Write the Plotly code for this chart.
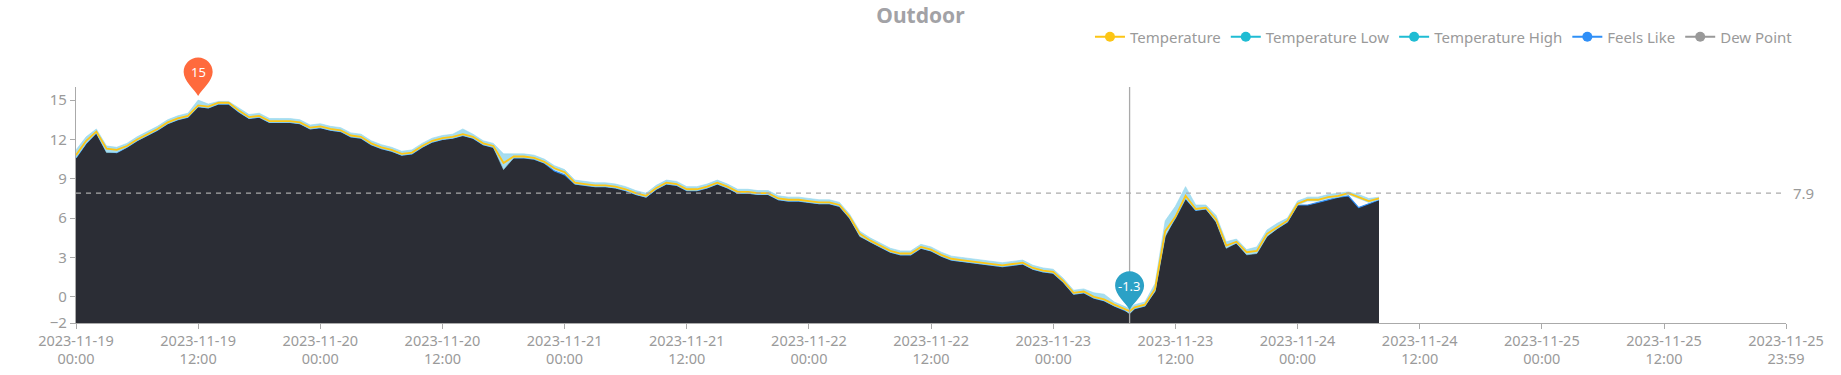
import numpy as np
import pandas as pd
import plotly.graph_objects as go

# ---------------- data ----------------
times = pd.date_range("2023-11-19 00:00", "2023-11-24 08:00", freq="h").tolist()
times.insert(104, pd.Timestamp("2023-11-23 07:30"))

temperature = [
    10.8, 11.9, 12.6, 11.3, 11.2, 11.5, 12.0, 12.4, 12.8, 13.3,
    13.6, 13.8, 14.6, 14.5, 14.8, 14.8, 14.2, 13.7, 13.8, 13.4,
    13.4, 13.4, 13.3, 12.9, 13.0, 12.8, 12.7, 12.3, 12.2, 11.7,
    11.4, 11.2, 10.9, 11.0, 11.5, 11.9, 12.1, 12.2, 12.4, 12.2,
    11.7, 11.5, 10.2, 10.7, 10.7, 10.6, 10.3, 9.8, 9.5, 8.7,
    8.6, 8.5, 8.5, 8.4, 8.2, 7.9, 7.7, 8.3, 8.7, 8.6,
    8.2, 8.2, 8.4, 8.7, 8.4, 8.0, 8.0, 7.9, 7.9, 7.5,
    7.4, 7.4, 7.3, 7.2, 7.2, 7.0, 6.1, 4.8, 4.3, 3.9,
    3.5, 3.3, 3.3, 3.8, 3.6, 3.2, 2.9, 2.8, 2.7, 2.6,
    2.5, 2.4, 2.5, 2.6, 2.2, 2.0, 1.9, 1.2, 0.3, 0.4,
    0.0, -0.2, -0.6, -0.9, -1.1, -0.8, -0.6, 0.6, 5.0, 6.1,
    7.7, 6.7, 6.8, 5.9, 3.9, 4.2, 3.4, 3.5, 4.8, 5.3,
    5.8, 7.1, 7.4, 7.4, 7.6, 7.7, 7.9, 7.6, 7.3, 7.5,
]

temperature_high = [
    11.2, 12.2, 12.8, 11.5, 11.4, 11.7, 12.2, 12.6, 13.0, 13.5,
    13.8, 14.0, 15.0, 14.7, 14.9, 14.9, 14.4, 13.9, 14.0, 13.6,
    13.6, 13.6, 13.5, 13.1, 13.2, 13.0, 12.9, 12.5, 12.4, 11.9,
    11.6, 11.4, 11.1, 11.2, 11.7, 12.1, 12.3, 12.4, 12.8, 12.4,
    11.9, 11.7, 10.9, 10.9, 10.9, 10.8, 10.5, 10.0, 9.7, 8.9,
    8.8, 8.7, 8.7, 8.6, 8.4, 8.1, 7.9, 8.5, 8.9, 8.8,
    8.4, 8.4, 8.6, 8.9, 8.6, 8.2, 8.2, 8.1, 8.1, 7.7,
    7.6, 7.6, 7.5, 7.4, 7.4, 7.2, 6.3, 5.0, 4.5, 4.1,
    3.7, 3.5, 3.5, 4.0, 3.8, 3.4, 3.1, 3.0, 2.9, 2.8,
    2.7, 2.6, 2.7, 2.8, 2.4, 2.2, 2.1, 1.4, 0.5, 0.6,
    0.3, 0.2, -0.4, -0.7, -0.9, -0.6, -0.4, 1.0, 5.8, 6.9,
    8.4, 7.0, 7.0, 6.2, 4.2, 4.4, 3.6, 3.8, 5.1, 5.6,
    6.0, 7.3, 7.6, 7.6, 7.8, 7.9, 8.0, 7.8, 7.5, 7.6,
]

temperature_low = [
    10.6, 11.7, 12.5, 11.0, 11.0, 11.4, 11.9, 12.3, 12.7, 13.2,
    13.5, 13.7, 14.5, 14.4, 14.7, 14.7, 14.1, 13.6, 13.7, 13.3,
    13.3, 13.3, 13.2, 12.8, 12.9, 12.7, 12.6, 12.2, 12.1, 11.6,
    11.3, 11.1, 10.8, 10.9, 11.4, 11.8, 12.0, 12.1, 12.3, 12.1,
    11.6, 11.4, 9.7, 10.6, 10.6, 10.5, 10.2, 9.7, 9.4, 8.6,
    8.5, 8.4, 8.4, 8.3, 8.1, 7.8, 7.6, 8.2, 8.6, 8.5,
    8.1, 8.1, 8.3, 8.6, 8.3, 7.9, 7.9, 7.8, 7.8, 7.4,
    7.3, 7.3, 7.2, 7.1, 7.1, 6.9, 6.0, 4.6, 4.2, 3.8,
    3.4, 3.2, 3.2, 3.7, 3.5, 3.1, 2.8, 2.7, 2.6, 2.5,
    2.4, 2.3, 2.4, 2.5, 2.1, 1.9, 1.8, 1.1, 0.2, 0.3,
    -0.1, -0.3, -0.7, -1.0, -1.3, -0.9, -0.7, 0.4, 4.6, 6.0,
    7.5, 6.6, 6.7, 5.7, 3.7, 4.1, 3.2, 3.3, 4.6, 5.2,
    5.7, 7.0, 7.3, 7.3, 7.5, 7.6, 7.8, 7.5, 7.2, 7.4,
]

feels_like = [
    10.6, 11.7, 12.5, 11.1, 11.0, 11.4, 11.9, 12.3, 12.7, 13.2,
    13.5, 13.7, 14.5, 14.4, 14.7, 14.7, 14.1, 13.6, 13.7, 13.3,
    13.3, 13.3, 13.2, 12.8, 12.9, 12.7, 12.6, 12.2, 12.1, 11.6,
    11.3, 11.1, 10.8, 10.9, 11.4, 11.8, 12.0, 12.1, 12.3, 12.1,
    11.6, 11.4, 10.0, 10.6, 10.6, 10.5, 10.2, 9.6, 9.3, 8.6,
    8.5, 8.4, 8.4, 8.3, 8.1, 7.8, 7.6, 8.2, 8.6, 8.5,
    8.1, 8.1, 8.3, 8.6, 8.3, 7.9, 7.9, 7.8, 7.8, 7.4,
    7.3, 7.3, 7.2, 7.1, 7.1, 6.9, 6.0, 4.7, 4.2, 3.8,
    3.4, 3.2, 3.2, 3.7, 3.5, 3.1, 2.8, 2.7, 2.6, 2.5,
    2.4, 2.3, 2.4, 2.5, 2.1, 1.9, 1.8, 1.1, 0.2, 0.3,
    -0.1, -0.3, -0.7, -1.0, -1.2, -0.9, -0.7, 0.5, 4.8, 6.0,
    7.5, 6.6, 6.7, 5.8, 3.8, 4.1, 3.3, 3.4, 4.7, 5.2,
    5.7, 7.0, 7.0, 7.2, 7.4, 7.6, 7.7, 6.8, 7.1, 7.4,
]

dew_point = []  # series shown in legend only

average_value = 7.9
y_min, y_max = -2, 16
y_ticks = [-2, 0, 3, 6, 9, 12, 15]
x_ticks = ["2023-11-19 00:00", "2023-11-19 12:00", "2023-11-20 00:00", "2023-11-20 12:00",
           "2023-11-21 00:00", "2023-11-21 12:00", "2023-11-22 00:00", "2023-11-22 12:00",
           "2023-11-23 00:00", "2023-11-23 12:00", "2023-11-24 00:00", "2023-11-24 12:00",
           "2023-11-25 00:00", "2023-11-25 12:00", "2023-11-25 23:59"]
x_range = ["2023-11-19 00:00", "2023-11-25 23:59"]

# ---------------- style ----------------
FONT = "Noto Sans, Open Sans, sans-serif"
C_TEMP = "#fcc515"
C_LOWHIGH = "#1fbcd3"
C_FEELS = "#2f8ff7"
C_DEW = "#999999"
C_DARK = "#2b2d35"
C_BAND = "#a6ddf0"
C_TEXT = "#9a9a9a"
C_AXIS = "#aaaaaa"

fig = go.Figure()

# base of the dark area (axis minimum)
fig.add_trace(go.Scatter(x=times, y=[y_min] * len(times), mode="lines",
                         line=dict(width=0), showlegend=False, hoverinfo="skip"))
fig.add_trace(go.Scatter(x=times, y=feels_like, mode="lines", name="Feels Like",
                         line=dict(color=C_FEELS, width=1.2), fill="tonexty",
                         fillcolor=C_DARK, showlegend=False))
fig.add_trace(go.Scatter(x=times, y=temperature_low, mode="lines", name="Temperature Low",
                         line=dict(color="#93d6ec", width=0.6), showlegend=False))
fig.add_trace(go.Scatter(x=times, y=temperature_high, mode="lines", name="Temperature High",
                         line=dict(color="#93d6ec", width=0.6), fill="tonexty",
                         fillcolor=C_BAND, showlegend=False))
fig.add_trace(go.Scatter(x=times, y=temperature, mode="lines", name="Temperature",
                         line=dict(color=C_TEMP, width=1.8), showlegend=False))

# legend entries
for i, (nm, col) in enumerate([("Temperature", C_TEMP), ("Temperature Low", C_LOWHIGH),
                               ("Temperature High", C_LOWHIGH), ("Feels Like", C_FEELS),
                               ("Dew Point", C_DEW)]):
    fig.add_trace(go.Scatter(x=[None], y=[None], mode="lines+markers", name=nm,
                             line=dict(color=col, width=2),
                             marker=dict(color=col, size=10), legendrank=i + 1))

shapes = []
annotations = []

# average line
shapes.append(dict(type="line", xref="x domain", yref="y", x0=0, x1=1,
                   y0=average_value, y1=average_value,
                   line=dict(color=C_AXIS, width=1.2, dash="5px,5px")))
annotations.append(dict(xref="x domain", yref="y", x=1, y=average_value, text=f"{average_value}",
                        showarrow=False, xanchor="left", yanchor="middle", xshift=5,
                        font=dict(family=FONT, size=15, color=C_TEXT)))

# min / max pins
imax = int(np.argmax(temperature_high))
imin = int(np.argmin(temperature_low))
pin_path = ("M 0 4 C -4 11 -14.5 19 -14.5 28 C -14.5 36 -8 42.5 0 42.5 "
            "C 8 42.5 14.5 36 14.5 28 C 14.5 19 4 11 0 4 Z")

# vertical pointer line at the minimum
shapes.append(dict(type="line", xref="x", yref="y domain", x0=times[imin], x1=times[imin],
                   y0=0, y1=1, line=dict(color=C_AXIS, width=1.3)))

for idx, series, col in [(imax, temperature_high, "#ff6a3d"), (imin, temperature_low, "#2ba1c6")]:
    y_frac = (series[idx] - y_min) / (y_max - y_min)  # position on the plot area (unclipped)
    shapes.append(dict(type="path", xref="x", yref="paper", xsizemode="pixel", ysizemode="pixel",
                       xanchor=times[idx], yanchor=y_frac, path=pin_path,
                       fillcolor=col, line=dict(width=0)))
    annotations.append(dict(xref="x", yref="y", x=times[idx], y=series[idx],
                            text=f"{series[idx]:g}", showarrow=False, yshift=28,
                            font=dict(family=FONT, size=13, color="white")))

tick_text = [t.replace(" ", "<br>") for t in x_ticks]

fig.update_layout(
    width=1841, height=375,
    margin=dict(l=76, r=55, t=87, b=52),
    paper_bgcolor="white", plot_bgcolor="white",
    font=dict(family=FONT, size=15, color=C_TEXT),
    title=dict(text="<b>Outdoor</b>", x=0.5, xanchor="center", xref="container",
               y=1 - 16 / 375, yanchor="middle", yref="container",
               font=dict(family=FONT, size=21, color="#a2a2a6")),
    legend=dict(orientation="h", x=1.007, xanchor="right", y=1.212, yanchor="middle",
                font=dict(family=FONT, size=15, color=C_TEXT), bgcolor="rgba(0,0,0,0)",
                itemwidth=30, tracegroupgap=0, traceorder="normal"),
    showlegend=True,
    shapes=shapes,
    annotations=annotations,
    hovermode=False,
)

fig.update_xaxes(range=x_range, tickvals=x_ticks, ticktext=tick_text, showgrid=False,
                 zeroline=False, showline=True, linecolor=C_AXIS, linewidth=1.3,
                 ticks="outside", ticklen=5, tickcolor=C_AXIS, automargin=False,
                 ticklabelstandoff=-1,
                 tickfont=dict(family=FONT, size=14.5, color=C_TEXT))
fig.update_yaxes(range=[y_min, y_max], tickvals=y_ticks, showgrid=False, zeroline=False,
                 showline=True, linecolor=C_AXIS, linewidth=1.3,
                 ticks="outside", ticklen=5, tickcolor=C_AXIS, automargin=False,
                 tickfont=dict(family=FONT, size=15, color=C_TEXT))

fig.write_html("out.html", config={"displayModeBar": False},
               post_script="document.body.style.margin='0';")
